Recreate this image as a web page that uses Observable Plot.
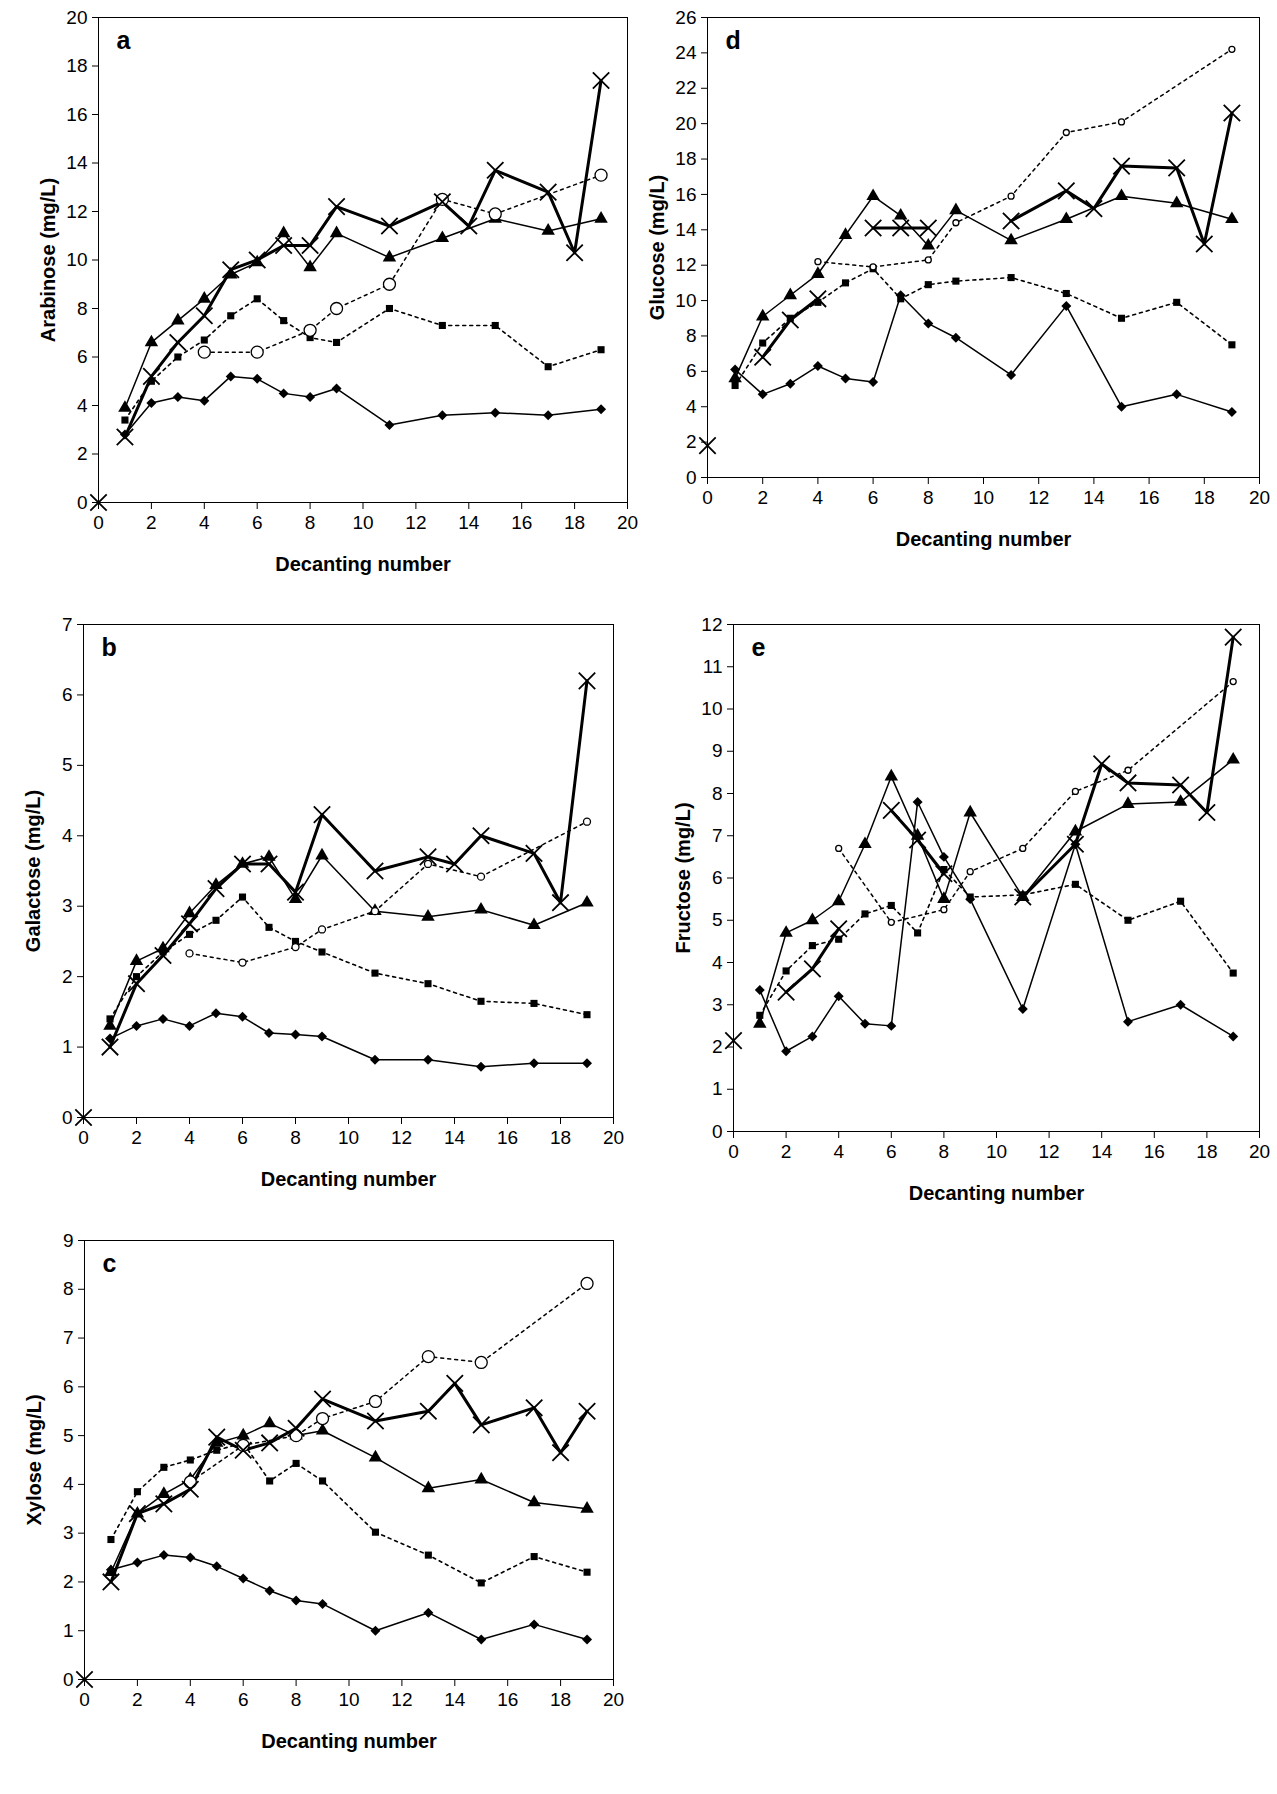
<!DOCTYPE html>
<html><head><meta charset="utf-8">
<script src="https://cdn.jsdelivr.net/npm/d3@7"></script>
<script src="https://cdn.jsdelivr.net/npm/@observablehq/plot@0.6"></script>
<style>
body{margin:0;background:#fff;font-family:"Liberation Sans",Arial,sans-serif}
#wrap{position:relative;width:1277px;height:1794px}
#wrap > div{position:absolute}
</style></head><body><div id="wrap"></div>
<script>
// x positions (decanting numbers)
const xMain = [1,2,3,4,5,6,7,8,9,11,13,15,17,19];
const xCircle = [4,6,8,9,11,13,15,19];
const xCross = [0,1,2,3,4,5,6,7,8,9,11,13,14,15,17,18,19];

// a: Arabinose
const araDiamond = [2.8,4.1,4.35,4.2,5.2,5.1,4.5,4.35,4.7,3.2,3.6,3.7,3.6,3.85];
const araSquare = [3.4,5.0,6.0,6.7,7.7,8.4,7.5,6.8,6.6,8.0,7.3,7.3,5.6,6.3];
const araTriangle = [3.9,6.6,7.5,8.4,9.4,9.9,11.1,9.7,11.1,10.1,10.9,11.7,11.2,11.7];
const araCircle = [6.2,6.2,7.1,8.0,9.0,12.5,11.9,13.5];
const araCross = [0,2.7,5.2,6.6,7.7,9.6,10.0,10.6,10.6,12.2,11.4,12.4,11.4,13.7,12.8,10.3,17.4];

// d: Glucose
const gluDiamond = [6.1,4.7,5.3,6.3,5.6,5.4,10.3,8.7,7.9,5.8,9.7,4.0,4.7,3.7];
const gluSquare = [5.2,7.6,9.0,9.9,11.0,11.8,10.1,10.9,11.1,11.3,10.4,9.0,9.9,7.5];
const gluTriangle = [5.6,9.1,10.3,11.5,13.7,15.9,14.8,13.1,15.1,13.4,14.6,15.9,15.5,14.6];
const gluCircle = [12.2,11.9,12.3,14.4,15.9,19.5,20.1,24.2];
const gluCross = [1.8,null,6.8,8.9,10.1,null,14.1,14.1,14.1,null,14.5,16.2,15.2,17.6,17.5,13.2,20.6];

// b: Galactose
const galDiamond = [1.12,1.3,1.4,1.3,1.48,1.43,1.2,1.18,1.15,0.82,0.82,0.72,0.77,0.77];
const galSquare = [1.4,2.0,2.35,2.6,2.8,3.13,2.7,2.5,2.35,2.05,1.9,1.65,1.62,1.46];
const galTriangle = [1.3,2.22,2.4,2.9,3.3,3.6,3.7,3.1,3.72,2.93,2.85,2.95,2.73,3.05];
const galCircle = [2.33,2.2,2.42,2.67,2.93,3.6,3.42,4.2];
const galCross = [0,1.0,1.9,2.3,2.75,3.25,3.6,3.6,3.2,4.3,3.5,3.7,3.6,4.0,3.75,3.05,6.2];

// e: Fructose
const fruDiamond = [3.35,1.9,2.25,3.2,2.55,2.5,7.8,6.5,5.5,2.9,6.8,2.6,3.0,2.25];
const fruSquare = [2.75,3.8,4.4,4.55,5.15,5.35,4.7,6.2,5.55,5.6,5.85,5.0,5.45,3.75];
const fruTriangle = [2.55,4.7,5.0,5.45,6.8,8.4,7.0,5.5,7.55,5.55,7.1,7.75,7.8,8.8];
const fruCircle = [6.7,4.95,5.25,6.15,6.7,8.05,8.55,10.65];
const fruCross = [2.15,null,3.3,3.85,4.8,null,7.6,6.9,6.1,null,5.55,6.8,8.7,8.25,8.2,7.55,11.7];

// c: Xylose
const xylDiamond = [2.25,2.4,2.55,2.5,2.32,2.07,1.82,1.62,1.55,1.0,1.37,0.82,1.13,0.82];
const xylSquare = [2.87,3.85,4.35,4.5,4.7,4.85,4.07,4.43,4.07,3.02,2.55,1.98,2.52,2.2];
const xylTriangle = [2.2,3.4,3.8,4.1,4.85,5.0,5.25,5.0,5.1,4.55,3.92,4.1,3.63,3.5];
const xylCircle = [4.05,4.8,5.0,5.35,5.7,6.62,6.5,8.12];
const xylCross = [0,2.0,3.4,3.6,3.9,4.97,4.7,4.85,5.15,5.75,5.3,5.5,6.07,5.22,5.57,4.65,5.5];

const zip = (xs, ys) => xs.map((x, i) => ({x, y: ys[i]}));

function panel({letter, ylabel, ymax, ystep, left, top, w, h, d, cr = 6}) {
  const ml = 74, mt = 10, mr = 12, mb = 84;
  const dia = zip(xMain, d[0]), sq = zip(xMain, d[1]), tri = zip(xMain, d[2]);
  const cir = zip(xCircle, d[3]);
  const crs = zip(xCross, d[4]);
  const crsLinked = crs.slice(1);
  const p = Plot.plot({
    width: w + ml + mr, height: h + mt + mb,
    marginLeft: ml, marginTop: mt, marginRight: mr, marginBottom: mb,
    style: {fontFamily: "Liberation Sans, Arial, sans-serif", fontSize: "19px", color: "#000"},
    x: {domain: [0, 20]},
    y: {domain: [0, ymax]},
    marks: [
      Plot.frame({stroke: "#000"}),
      Plot.axisX({ticks: d3.range(0, 21, 2), tickSize: 7, tickPadding: 6, fontSize: 19, tickFormat: "d",
        label: "Decanting number", labelAnchor: "center", labelArrow: "none", labelOffset: 68}),
      Plot.axisY({ticks: d3.range(0, ymax + 0.001, ystep), tickSize: 6, tickPadding: 5, fontSize: 19, tickFormat: "d",
        label: ylabel, labelAnchor: "center", labelArrow: "none", labelOffset: 58}),
      Plot.line(dia, {x: "x", y: "y", stroke: "#000", strokeWidth: 1.5}),
      Plot.line(sq, {x: "x", y: "y", stroke: "#000", strokeWidth: 1.6, strokeDasharray: "3,4"}),
      Plot.line(tri, {x: "x", y: "y", stroke: "#000", strokeWidth: 1.5}),
      Plot.line(cir, {x: "x", y: "y", stroke: "#000", strokeWidth: 1.5, strokeDasharray: "3,4"}),
      Plot.line(crsLinked, {x: "x", y: "y", stroke: "#000", strokeWidth: 3}),
      Plot.dot(dia, {x: "x", y: "y", symbol: "diamond2", fill: "#000", r: 4.5}),
      Plot.dot(sq, {x: "x", y: "y", symbol: "square", fill: "#000", r: 4}),
      Plot.dot(tri, {x: "x", y: "y", symbol: "triangle", fill: "#000", r: 5}),
      Plot.dot(cir, {x: "x", y: "y", symbol: "circle", fill: "#fff", stroke: "#000", strokeWidth: 1.3, r: cr}),
      Plot.dot(crs, {x: "x", y: "y", symbol: "times", stroke: "#000", strokeWidth: 1.8, r: 7.5}),
      Plot.text([letter], {frameAnchor: "top-left", dx: 18, dy: 14, fontSize: 25, fontWeight: "bold", fill: "#000"})
    ]
  });
  p.querySelectorAll("[aria-label='x-axis label'] text, [aria-label='y-axis label'] text")
    .forEach(t => { t.style.fontWeight = "bold"; t.style.fontSize = "20px"; });
  const div = document.createElement("div");
  div.style.left = (left - ml) + "px";
  div.style.top = (top - mt) + "px";
  div.append(p);
  document.getElementById("wrap").append(div);
}

panel({letter: "a", ylabel: "Arabinose (mg/L)", ymax: 20, ystep: 2, left: 98, top: 17, w: 529, h: 485,
  d: [araDiamond, araSquare, araTriangle, araCircle, araCross]});
panel({letter: "d", ylabel: "Glucose (mg/L)", ymax: 26, ystep: 2, left: 707, top: 17, w: 552, h: 460,
  d: [gluDiamond, gluSquare, gluTriangle, gluCircle, gluCross], cr: 3});
panel({letter: "b", ylabel: "Galactose (mg/L)", ymax: 7, ystep: 1, left: 83, top: 624, w: 530, h: 493,
  d: [galDiamond, galSquare, galTriangle, galCircle, galCross], cr: 3.5});
panel({letter: "e", ylabel: "Fructose (mg/L)", ymax: 12, ystep: 1, left: 733, top: 624, w: 526, h: 507,
  d: [fruDiamond, fruSquare, fruTriangle, fruCircle, fruCross], cr: 3});
panel({letter: "c", ylabel: "Xylose (mg/L)", ymax: 9, ystep: 1, left: 84, top: 1240, w: 529, h: 439,
  d: [xylDiamond, xylSquare, xylTriangle, xylCircle, xylCross]});
</script></body></html>
